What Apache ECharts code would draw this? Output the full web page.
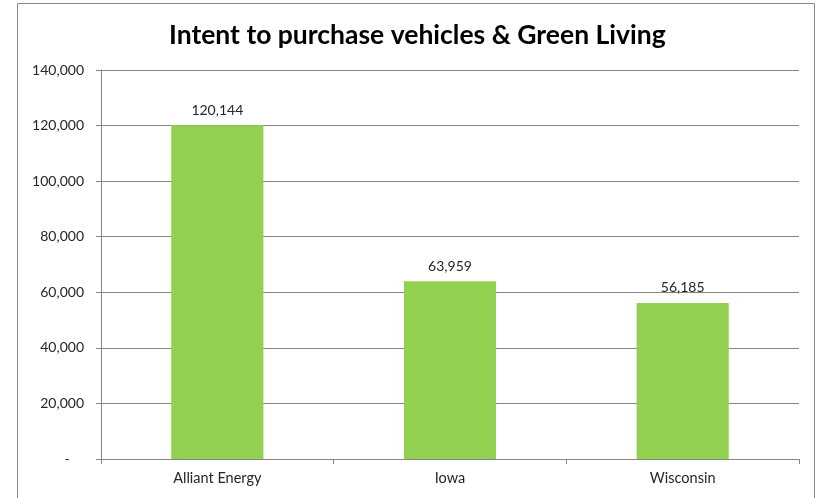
<!DOCTYPE html>
<html><head><meta charset="utf-8">
<script src="https://cdn.jsdelivr.net/npm/echarts@6/dist/echarts.min.js"></script>
<style>html,body{margin:0;padding:0;background:#fff}#c{width:817px;height:498px}</style>
</head><body><div id="c"></div>
<script>
const categories = ['Alliant Energy', 'Iowa', 'Wisconsin'];
const values = [120144, 63959, 56185];
const yTicks = [0, 20000, 40000, 60000, 80000, 100000, 120000, 140000];

const chart = echarts.init(document.getElementById('c'), null, {renderer: 'canvas'});
const fmt = v => v.toLocaleString('en-US');
chart.setOption({
  animation: false,
  backgroundColor: '#fff',
  graphic: [{
    type: 'rect', shape: {x: 17.5, y: 3.5, width: 797, height: 540},
    style: {fill: 'none', stroke: '#868686', lineWidth: 1}, silent: true
  }],
  title: {
    text: 'Intent to purchase vehicles & Green Living',
    left: 164, top: 17,
    textStyle: {fontFamily: 'Lato', fontWeight: 'bold', fontSize: 26.5, color: '#000'}
  },
  grid: {left: 101, right: 18, top: 70, bottom: 39, containLabel: false},
  xAxis: {
    type: 'category', data: categories,
    axisLine: {lineStyle: {color: '#868686'}},
    axisTick: {show: true, length: 5, lineStyle: {color: '#868686'}},
    axisLabel: {color: '#262626', fontFamily: 'Lato', fontSize: 14.5, margin: 12}
  },
  yAxis: {
    type: 'value', min: yTicks[0], max: yTicks[yTicks.length - 1], interval: 20000,
    axisLine: {show: true, lineStyle: {color: '#868686'}},
    axisTick: {show: true, length: 5, lineStyle: {color: '#868686'}},
    splitLine: {lineStyle: {color: '#868686'}},
    axisLabel: {color: '#262626', fontFamily: 'Lato', fontSize: 14, margin: 17,
      formatter: v => v === 0 ? '-    ' : fmt(v)}
  },
  series: [{
    type: 'bar', data: values, barWidth: '39.6%',
    itemStyle: {color: '#92D050'},
    label: {show: true, position: 'top', distance: 8, color: '#262626',
      fontFamily: 'Lato', fontSize: 14, formatter: p => fmt(p.value)}
  }]
});
</script></body></html>
